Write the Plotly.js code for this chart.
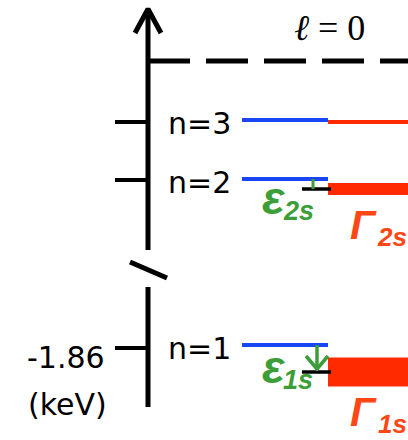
<!DOCTYPE html>
<html>
<head>
<meta charset="utf-8">
<script src="https://cdn.plot.ly/plotly-3.0.1.min.js"></script>
<style>
  html, body { margin: 0; padding: 0; background: #fff; }
  #plot { width: 408px; height: 440px; }
</style>
</head>
<body>
<div id="plot"></div>
<script>
// s-state (ℓ = 0) energy levels, in diagram height units (y grows upward)
const levels   = ['n=1', 'n=2', 'n=3'];
const subs     = ['1s', '2s', '3s'];
const levelE   = [95, 261, 320];   // unperturbed levels (blue)
const shiftE   = [27, 10, 2];      // ε_ns : level shift
const widthG   = [29, 12, 4];      // Γ_ns : level width
const labelled = [true, true, false];
const continuumE = 379;            // ℓ = 0 threshold (dashed)
const tickE    = [92, 260, 318];
const tickText = ['-1.86', '', ''];
const unitText = '(keV)';

const BLUE = '#1846f5', RED = '#ff2a00', ORANGE = '#ff4716', GREEN = '#3c9e38', BLACK = '#000';

// horizontal layout of the diagram
const AX = 148;                       // energy axis position
const X_LEVEL = [242, 328], X_WIDTH = [328, 408], X_SHIFT = [302, 331];

function segs(pairs) {
  const x = [], y = [];
  pairs.forEach(p => { x.push(p[0], p[2], null); y.push(p[1], p[3], null); });
  return {x, y};
}
function lineTrace(pairs, color, width, extra) {
  const s = segs(pairs);
  return Object.assign({type: 'scatter', mode: 'lines', x: s.x, y: s.y,
    line: {color: color, width: width}, hoverinfo: 'skip', showlegend: false}, extra || {});
}

const traces = [];

// energy axis: broken shaft with an open arrow head
traces.push(lineTrace([[AX, 33, AX, 153], [AX, 190, AX, 430]], BLACK, 5));
traces.push({type: 'scatter', mode: 'lines', x: [AX - 13, AX, AX + 13], y: [407, 431, 407],
  line: {color: BLACK, width: 5}, hoverinfo: 'skip', showlegend: false});
traces.push(lineTrace([[130, 178, 167, 162]], BLACK, 5));

// axis ticks
traces.push(lineTrace(tickE.map(e => [115, e, AX, e]), BLACK, 4));

// continuum threshold
traces.push(lineTrace([[AX, continuumE, 408, continuumE]], BLACK, 5,
  {line: {color: BLACK, width: 5, dash: '42px,16px'}}));

// unperturbed levels
traces.push(lineTrace(levelE.map(e => [X_LEVEL[0], e, X_LEVEL[1], e]), BLUE, 4));

// shifted level markers
const shifted = levelE.map((e, i) => e - shiftE[i]);
traces.push(lineTrace(shifted.map((e, i) => labelled[i] ? [X_SHIFT[0], e, X_SHIFT[1], e] : null)
  .filter(Boolean), BLACK, 3.5));

// shift arrows (ε)
traces.push(lineTrace([[313, levelE[1], 313, shifted[1]]], GREEN, 3));
traces.push(lineTrace([[317, levelE[0], 317, shifted[0] + 2]], GREEN, 3.5));
traces.push({type: 'scatter', mode: 'lines',
  x: [306, 317, 328], y: [shifted[0] + 16, shifted[0] + 3, shifted[0] + 16],
  line: {color: GREEN, width: 3.5}, hoverinfo: 'skip', showlegend: false});

// widths (Γ) as bands centred on the shifted levels
const shapes = shifted.map((e, i) => ({
  type: 'rect', xref: 'x', yref: 'y', x0: X_WIDTH[0], x1: X_WIDTH[1],
  y0: e - widthG[i] / 2, y1: e + widthG[i] / 2,
  fillcolor: RED, line: {width: 0}, layer: 'below'
}));

const SANS = 'DejaVu Sans, sans-serif';
const BI = 'Liberation Sans, Arial, sans-serif';
const annotations = [];
function txt(x, y, text, size, color, family, xanchor, extra) {
  annotations.push(Object.assign({x: x, y: y, xref: 'x', yref: 'y', text: text, showarrow: false,
    xanchor: xanchor || 'center', yanchor: 'middle',
    font: {size: size, color: color, family: family}}, extra || {}));
}

// level names
levels.forEach((name, i) => txt(166, levelE[i] - 3, name, 30, BLACK, SANS, 'left'));
// tick value and unit
tickText.forEach((t, i) => { if (t) txt(66, tickE[i] - 9, t, 30, BLACK, SANS); });
txt(67, 36, unitText, 30, BLACK, SANS);

// threshold label
txt(329, 412, '<i>ℓ</i> = 0', 36, BLACK, 'Liberation Serif, serif');

// ε and Γ labels
labelled.forEach((on, i) => {
  if (!on) return;
  const e = shifted[i];
  const epsY = i === 0 ? e + 6 : e - 8;
  txt(273, epsY, '<b><i>ε</i></b>', 47, GREEN, BI);
  txt(298, epsY - 14, '<b><i>' + subs[i] + '</i></b>', 27, GREEN, BI);
  const gY = e - (i === 0 ? 40 : 36);
  txt(363, gY, '<b><i>Γ</i></b>', 41, ORANGE, BI);
  txt(392, gY - 12, '<b><i>' + subs[i] + '</i></b>', 26, ORANGE, BI);
});

const layout = {
  width: 408, height: 440,
  margin: {l: 0, r: 0, t: 0, b: 0, pad: 0},
  paper_bgcolor: '#fff', plot_bgcolor: '#fff',
  xaxis: {range: [0, 408], visible: false, fixedrange: true},
  yaxis: {range: [0, 440], visible: false, fixedrange: true},
  shapes: shapes,
  annotations: annotations,
  showlegend: false
};

Plotly.newPlot('plot', traces, layout, {staticPlot: true, displayModeBar: false});
</script>
</body>
</html>
